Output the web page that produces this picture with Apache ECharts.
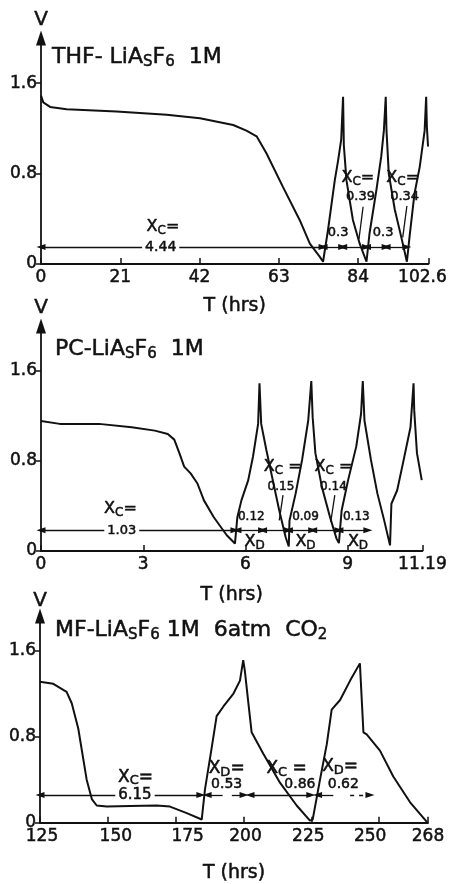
<!DOCTYPE html>
<html>
<head>
<meta charset="utf-8">
<script src="https://cdn.jsdelivr.net/npm/echarts@6/dist/echarts.min.js"></script>
<style>
  html, body { margin: 0; padding: 0; background: #fff; }
  #chart { width: 450px; height: 884px; }
</style>
</head>
<body>
<div id="chart"></div>
<script>
// ---- THF-LiAsF6 1M : cycling curve, time (hrs) vs cell voltage (V)
const thfT = [0, 0.6, 2.4, 6.8, 20.0, 33.3, 42.1, 50.9, 54.4, 57.1, 59.7, 64.1, 68.5, 71.2, 73.8, 74.7,
  76.0, 77.8, 78.7, 79.5, 79.8, 80.0, 80.2, 80.9, 82.6, 84.4, 86.2,
  87.0, 88.8, 90.1, 90.8, 91.3, 91.5, 92.1, 93.7, 95.4, 96.9,
  97.6, 98.9, 100.3, 101.6, 102.0, 102.2, 102.5];
const thfV = [1.49, 1.43, 1.39, 1.37, 1.35, 1.32, 1.29, 1.23, 1.18, 1.13, 0.98, 0.68, 0.39, 0.18, 0.065, 0.02,
  0.30, 0.74, 0.92, 1.10, 1.33, 1.48, 1.05, 0.74, 0.39, 0.18, 0.02,
  0.27, 0.65, 0.95, 1.18, 1.48, 1.18, 0.80, 0.48, 0.24, 0.02,
  0.24, 0.62, 0.86, 1.18, 1.48, 1.21, 1.04];
const thfTicks = [0, 21, 42, 63, 84, 102.6];
const thfArrowLevel = 0.15;
const thfSpans = [[0, 74.7], [74.7, 79.9], [79.9, 86.2], [86.2, 91.4], [91.4, 96.9]];
const thfNotes = [
  [32.3, 0.33, '{x|X}{s|C}{x|=}'],
  [78.7, 0.277, '{n|0.3}'],
  [90.6, 0.277, '{n|0.3}'],
  [83.9, 0.76, '{x|X}{s|C}{x|=}'],
  [84.6, 0.60, '{n|0.39}'],
  [95.8, 0.76, '{x|X}{s|C}{x|=}'],
  [96.3, 0.60, '{n|0.34}']
];
const thfOnLine = [[31.7, '4.44']];
const thfLeaders = [[[85.3, 0.507], [84.2, 0.219]], [[96.9, 0.513], [95.8, 0.236]]];

// ---- PC-LiAsF6 1M
const pcT = [0, 0.55, 1.70, 2.66, 3.34, 3.72, 3.91, 4.06, 4.20, 4.39, 4.59, 4.78, 5.07, 5.45, 5.69, 5.74,
  5.76, 5.88, 6.08, 6.22, 6.37, 6.41, 6.46, 6.61, 6.80, 6.99, 7.18, 7.27,
  7.29, 7.47, 7.66, 7.84, 7.93, 7.97, 8.05, 8.24, 8.48, 8.67, 8.74,
  8.82, 9.01, 9.25, 9.39, 9.44, 9.49, 9.68, 9.87, 10.07, 10.24,
  10.28, 10.45, 10.64, 10.84, 10.93, 10.95, 11.03, 11.17];
const pcV = [1.155, 1.13, 1.13, 1.10, 1.07, 1.04, 0.99, 0.87, 0.75, 0.69, 0.60, 0.45, 0.30, 0.14, 0.066, 0.05,
  0.30, 0.45, 0.63, 0.84, 1.13, 1.49, 1.13, 0.90, 0.63, 0.36, 0.12, 0.04,
  0.27, 0.51, 0.81, 1.16, 1.51, 1.19, 0.87, 0.57, 0.30, 0.11, 0.07,
  0.36, 0.63, 0.93, 1.22, 1.51, 1.16, 0.81, 0.51, 0.27, 0.05,
  0.42, 0.54, 0.81, 1.10, 1.49, 1.25, 0.87, 0.63];
const pcTicks = [0, 3, 6, 9, 11.19];
const pcArrowLevel = 0.184;
const pcSpans = [[0, 5.69], [5.75, 6.5], [6.5, 7.26], [7.26, 7.97], [7.97, 8.74], [8.74, 9.59]];
const pcNotes = [
  [2.33, 0.378, '{x|X}{s|C}{x|=}'],
  [6.17, 0.303, '{n|0.12}'],
  [6.27, 0.08, '{x|X}{s|D}'],
  [7.76, 0.303, '{n|0.09}'],
  [7.76, 0.08, '{x|X}{s|D}'],
  [9.25, 0.303, '{n|0.13}'],
  [9.30, 0.08, '{x|X}{s|D}'],
  [7.09, 0.748, '{x|X}{s|C}{x| =}'],
  [7.04, 0.57, '{n|0.15}'],
  [8.58, 0.748, '{x|X}{s|C}{x| =}'],
  [8.58, 0.57, '{n|0.14}']
];
const pcOnLine = [[2.37, '1.03']];
const pcLeaders = [[[7.10, 0.496], [6.99, 0.273]], [[8.62, 0.496], [8.50, 0.258]]];

// ---- MF-LiAsF6 1M, 6 atm CO2
const mfT = [125, 129.9, 134.8, 136.7, 139.1, 142.2, 144.1, 145.9, 149.6, 158.2, 168.0, 172.9, 179.1, 184.6,
  185.8, 188.3, 190.1, 192.6, 196.3, 198.7, 199.9, 200.5, 201.8, 203.0, 207.3, 213.5, 219.6, 224.5, 225.5,
  228.2, 230.7, 232.5, 235.6, 239.3, 242.9, 244.2, 245.4, 250.3, 255.2, 261.4, 267.5, 268];
const mfV = [1.31, 1.29, 1.215, 1.11, 0.875, 0.40, 0.22, 0.16, 0.15, 0.155, 0.16, 0.15, 0.09, 0.03,
  0.31, 0.70, 0.99, 1.08, 1.20, 1.32, 1.51, 1.41, 1.11, 0.84, 0.64, 0.37, 0.16, 0.02, 0.03,
  0.40, 0.73, 1.05, 1.14, 1.32, 1.48, 0.84, 0.82, 0.67, 0.43, 0.19, 0.01, 0.0];
const mfTicks = [125, 150, 175, 200, 225, 250, 268];
const mfArrowLevel = 0.258;
const mfSpans = [[125, 184.3], [202.4, 224.8]];
const mfSpansIn = [[186.6, 192.3], [227.3, 233.1]];   // arrowhead at the left end only
const mfSpansOut = [[195.7, 200.2], [239.3, 246.6]];  // arrowhead at the right end only
const mfNotes = [
  [160.2, 0.42, '{x|X}{s|C}{x|=}'],
  [193.8, 0.50, '{x|X}{s|D}{x|=}'],
  [193.8, 0.356, '{n|0.53}'],
  [215.9, 0.50, '{x|X}{s|C}{x| =}'],
  [220.8, 0.356, '{n|0.86}'],
  [235.6, 0.52, '{x|X}{s|D}{x|=}'],
  [236.8, 0.356, '{n|0.62}']
];
const mfOnLine = [[160.0, '6.15']];

// ---------------------------------------------------------------
const FONT = 'DejaVu Sans';
const INK = '#111';
// a thin outline in the ink colour gives the lettering a slightly heavier stroke
const HEAVY = { textBorderColor: INK, textBorderWidth: 0.5 };

const zip = (t, v) => t.map((x, i) => [x, v[i]]);

const panels = [
  {
    title: '{a|THF- LiA}{s|S}{a|F}{s|6}{a|  1M}', titleLeft: 52, titleTop: 44,
    grid: { left: 41, top: 38, width: 388, height: 226 }, yMax: 2.0, vGap: 8, tGap: 33,
    labelNudge: { 102.6: -6 },
    T: thfT, V: thfV, ticks: thfTicks, level: thfArrowLevel, spans: thfSpans,
    spansIn: [], spansOut: [], outDashed: [], notes: thfNotes, onLine: thfOnLine, leaders: thfLeaders,
    xSize: 16, subSize: 12, numSize: 13
  },
  {
    title: '{a|PC-LiA}{s|S}{a|F}{s|6}{a|  1M}', titleLeft: 55, titleTop: 336,
    grid: { left: 41, top: 326, width: 388, height: 225 }, yMax: 2.0, vGap: 8, tGap: 35,
    labelNudge: {},
    T: pcT, V: pcV, ticks: pcTicks, level: pcArrowLevel, spans: pcSpans,
    spansIn: [], spansOut: [], outDashed: [], notes: pcNotes, onLine: pcOnLine, leaders: pcLeaders,
    xSize: 16, subSize: 12, numSize: 12
  },
  {
    title: '{a|MF-LiA}{s|S}{a|F}{s|6}{a| 1M  6atm  CO}{s|2}', titleLeft: 55, titleTop: 617,
    grid: { left: 40, top: 616, width: 388, height: 216 }, yMax: 1.92, vGap: 5, tGap: 41,
    labelNudge: { 125: 2, 150: 8, 175: 12, 200: 2, 225: -3, 250: -9 },
    T: mfT, V: mfV, ticks: mfTicks, level: mfArrowLevel, spans: mfSpans,
    spansIn: mfSpansIn, spansOut: mfSpansOut, outDashed: [false, true], notes: mfNotes, onLine: mfOnLine, leaders: [],
    xSize: 17, subSize: 13, numSize: 14
  }
];

const axisLine = { show: true, lineStyle: { color: INK, width: 1.8 } };

// tick-label styles: a horizontal nudge is done with asymmetric padding
function tickLabelRich(nudge) {
  const rich = {};
  Object.keys(nudge).forEach((k, j) => {
    const d = nudge[k];
    rich['m' + j] = Object.assign({
      fontFamily: FONT, fontSize: 17, color: INK,
      padding: d >= 0 ? [0, 0, 0, 2 * d] : [0, -2 * d, 0, 0]
    }, HEAVY);
  });
  return rich;
}
function tickLabelFormatter(nudge) {
  const keys = Object.keys(nudge);
  return v => {
    const j = keys.findIndex(k => Math.abs(Number(k) - v) < 1e-6);
    return j >= 0 ? '{m' + j + '|' + v + '}' : String(v);
  };
}

const option = {
  animation: false,
  backgroundColor: '#fff',
  textStyle: { fontFamily: FONT, color: INK },
  title: panels.map(p => ({
    text: p.title,
    left: p.titleLeft,
    top: p.titleTop,
    padding: 0,
    textStyle: {
      fontWeight: 'normal',
      rich: {
        a: Object.assign({ fontFamily: FONT, fontSize: 22, fontWeight: 'normal', color: INK, lineHeight: 26 }, HEAVY),
        s: Object.assign({ fontFamily: FONT, fontSize: 15, fontWeight: 'normal', color: INK, lineHeight: 11, verticalAlign: 'bottom' }, HEAVY)
      }
    }
  })),
  grid: panels.map(p => p.grid),
  xAxis: panels.map((p, i) => ({
    gridIndex: i,
    type: 'value',
    min: p.ticks[0],
    max: p.ticks[p.ticks.length - 1],
    axisLine: axisLine,
    axisTick: { show: true, inside: true, length: 6, customValues: p.ticks, lineStyle: { color: INK, width: 1.5 } },
    axisLabel: Object.assign({
      customValues: p.ticks, color: INK, fontFamily: FONT, fontSize: 17, margin: 5,
      formatter: tickLabelFormatter(p.labelNudge), rich: tickLabelRich(p.labelNudge)
    }, HEAVY),
    splitLine: { show: false },
    name: 'T (hrs)',
    nameLocation: 'middle',
    nameGap: p.tGap,
    nameTextStyle: Object.assign({ color: INK, fontFamily: FONT, fontSize: 19 }, HEAVY)
  })),
  yAxis: panels.map((p, i) => ({
    gridIndex: i,
    type: 'value',
    min: 0,
    max: p.yMax,
    axisLine: { show: true, symbol: ['none', 'triangle'], symbolSize: [10, 15], lineStyle: { color: INK, width: 1.8 } },
    axisTick: { show: true, inside: false, length: 5, customValues: [0, 0.8, 1.6], lineStyle: { color: INK, width: 1.5 } },
    axisLabel: Object.assign({ customValues: [0, 0.8, 1.6], color: INK, fontFamily: FONT, fontSize: 17, margin: 4 }, HEAVY),
    splitLine: { show: false },
    name: 'V',
    nameLocation: 'end',
    nameGap: p.vGap,
    nameTextStyle: Object.assign({ color: INK, fontFamily: FONT, fontSize: 20, align: 'center' }, HEAVY)
  })),
  series: []
};

panels.forEach((p, i) => {
  const lvl = p.level;
  const lineData = [];
  p.spans.forEach(([a, b]) => lineData.push([{ coord: [a, lvl] }, { coord: [b, lvl] }]));
  p.spansIn.forEach(([a, b]) => lineData.push([{ coord: [a, lvl], symbol: 'triangle' }, { coord: [b, lvl], symbol: 'none' }]));
  p.spansOut.forEach(([a, b], k) => lineData.push([
    { coord: [a, lvl], symbol: 'none', lineStyle: { type: p.outDashed[k] ? [4, 5] : 'solid' } },
    { coord: [b, lvl], symbol: 'triangle' }
  ]));
  p.leaders.forEach(([s, e]) => lineData.push([{ coord: s, symbol: 'none' }, { coord: e, symbol: 'none' }]));

  option.series.push({
    type: 'line',
    xAxisIndex: i,
    yAxisIndex: i,
    data: zip(p.T, p.V),
    showSymbol: false,
    silent: true,
    lineStyle: { color: INK, width: 2 },
    z: 3,
    markLine: {
      silent: true,
      symbol: ['triangle', 'triangle'],
      symbolSize: [6, 9],
      label: { show: false },
      lineStyle: { color: INK, width: 1.3, type: 'solid' },
      emphasis: { disabled: true },
      data: lineData
    }
  });

  const rich = {
    x: Object.assign({ fontFamily: FONT, fontSize: p.xSize, color: INK, lineHeight: 20 }, HEAVY),
    s: Object.assign({ fontFamily: FONT, fontSize: p.subSize, color: INK, lineHeight: 10, verticalAlign: 'bottom' }, HEAVY),
    n: Object.assign({ fontFamily: FONT, fontSize: p.numSize, color: INK, lineHeight: 16 }, HEAVY)
  };

  option.series.push({
    type: 'scatter',
    xAxisIndex: i,
    yAxisIndex: i,
    symbolSize: 0,
    silent: true,
    z: 6,
    itemStyle: { opacity: 1, color: INK },
    data: p.notes.map(n => ({ value: [n[0], n[1]], text: n[2] })),
    label: { show: true, position: 'inside', color: INK, formatter: q => q.data.text, rich: rich }
  });

  option.series.push({
    type: 'scatter',
    xAxisIndex: i,
    yAxisIndex: i,
    symbolSize: 0,
    silent: true,
    z: 7,
    itemStyle: { opacity: 1, color: INK },
    data: p.onLine.map(n => ({ value: [n[0], lvl], text: n[1] })),
    label: Object.assign({
      show: true, position: 'inside', formatter: q => q.data.text,
      color: INK, fontFamily: FONT, fontSize: p.numSize + 1,
      backgroundColor: '#fff', padding: [1, 3]
    }, HEAVY)
  });
});

const chart = echarts.init(document.getElementById('chart'), null, { renderer: 'canvas' });
chart.setOption(option);
</script>
</body>
</html>
